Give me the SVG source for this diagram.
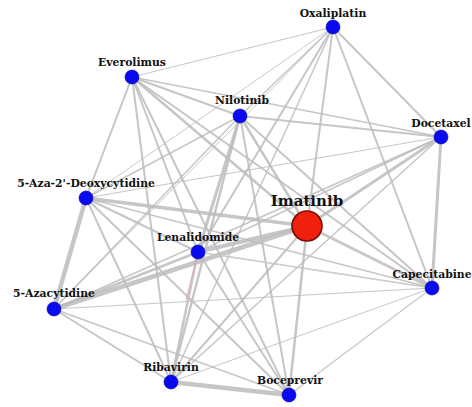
<svg xmlns="http://www.w3.org/2000/svg" width="472" height="407" viewBox="0 0 472 407">
<style>
.e{stroke:#bcbcbc;stroke-linecap:round;fill:none;stroke-opacity:0.85}
.n{fill:#0a0af0;stroke:#0000a0;stroke-width:0.6}
.hub{fill:#f0200e;stroke:#7a0a00;stroke-width:1.6}
.l{font-family:"DejaVu Serif","Liberation Serif",serif;font-weight:bold;font-size:10.8px;fill:#111;text-anchor:middle}
.big{font-size:15px}
</style>
<rect width="472" height="407" fill="#fff"/>
<g id="connectors">
<line class="e" x1="333" y1="27" x2="132" y2="77" stroke-width="1"/>
<line class="e" x1="333" y1="27" x2="240" y2="116" stroke-width="1.5"/>
<line class="e" x1="333" y1="27" x2="441" y2="137" stroke-width="2"/>
<line class="e" x1="333" y1="27" x2="86" y2="198" stroke-width="1" stroke-dasharray="3 1"/>
<line class="e" x1="333" y1="27" x2="307" y2="226" stroke-width="2"/>
<line class="e" x1="333" y1="27" x2="198" y2="252" stroke-width="2"/>
<line class="e" x1="333" y1="27" x2="432" y2="288" stroke-width="2"/>
<line class="e" x1="333" y1="27" x2="171" y2="382" stroke-width="1.5"/>
<line class="e" x1="333" y1="27" x2="54" y2="309" stroke-width="1"/>
<line class="e" x1="132" y1="77" x2="240" y2="116" stroke-width="2"/>
<line class="e" x1="132" y1="77" x2="86" y2="198" stroke-width="2"/>
<line class="e" x1="132" y1="77" x2="307" y2="226" stroke-width="2.5"/>
<line class="e" x1="132" y1="77" x2="198" y2="252" stroke-width="2"/>
<line class="e" x1="132" y1="77" x2="171" y2="382" stroke-width="2"/>
<line class="e" x1="132" y1="77" x2="289" y2="395" stroke-width="2"/>
<line class="e" x1="132" y1="77" x2="441" y2="137" stroke-width="1.5"/>
<line class="e" x1="132" y1="77" x2="432" y2="288" stroke-width="2"/>
<line class="e" x1="240" y1="116" x2="441" y2="137" stroke-width="2"/>
<line class="e" x1="240" y1="116" x2="307" y2="226" stroke-width="2.5"/>
<line class="e" x1="240" y1="116" x2="198" y2="252" stroke-width="3"/>
<line class="e" x1="240" y1="116" x2="171" y2="382" stroke-width="2.5"/>
<line class="e" x1="240" y1="116" x2="289" y2="395" stroke-width="2"/>
<line class="e" x1="240" y1="116" x2="432" y2="288" stroke-width="2"/>
<line class="e" x1="240" y1="116" x2="86" y2="198" stroke-width="1.5"/>
<line class="e" x1="240" y1="116" x2="54" y2="309" stroke-width="1.5"/>
<line class="e" x1="441" y1="137" x2="432" y2="288" stroke-width="3"/>
<line class="e" x1="441" y1="137" x2="307" y2="226" stroke-width="3"/>
<line class="e" x1="441" y1="137" x2="198" y2="252" stroke-width="1.5"/>
<line class="e" x1="441" y1="137" x2="86" y2="198" stroke-width="1"/>
<line class="e" x1="441" y1="137" x2="54" y2="309" stroke-width="1.5"/>
<line class="e" x1="441" y1="137" x2="171" y2="382" stroke-width="1.5"/>
<line class="e" x1="86" y1="198" x2="54" y2="309" stroke-width="4.5"/>
<line class="e" x1="86" y1="198" x2="307" y2="226" stroke-width="3.5"/>
<line class="e" x1="86" y1="198" x2="198" y2="252" stroke-width="2"/>
<line class="e" x1="86" y1="198" x2="171" y2="382" stroke-width="2"/>
<line class="e" x1="86" y1="198" x2="289" y2="395" stroke-width="2"/>
<line class="e" x1="86" y1="198" x2="432" y2="288" stroke-width="1.5"/>
<line class="e" x1="307" y1="226" x2="198" y2="252" stroke-width="4"/>
<line class="e" x1="307" y1="226" x2="54" y2="309" stroke-width="4.5"/>
<line class="e" x1="307" y1="226" x2="432" y2="288" stroke-width="3"/>
<line class="e" x1="307" y1="226" x2="289" y2="395" stroke-width="2.5"/>
<line class="e" x1="307" y1="226" x2="171" y2="382" stroke-width="2"/>
<line class="e" x1="198" y1="252" x2="54" y2="309" stroke-width="2.5"/>
<line class="e" x1="198" y1="252" x2="171" y2="382" stroke-width="2.5"/>
<line class="e" x1="198" y1="252" x2="289" y2="395" stroke-width="2"/>
<line class="e" x1="198" y1="252" x2="432" y2="288" stroke-width="1.5"/>
<line class="e" x1="54" y1="309" x2="171" y2="382" stroke-width="2"/>
<line class="e" x1="54" y1="309" x2="289" y2="395" stroke-width="1.5"/>
<line class="e" x1="54" y1="309" x2="432" y2="288" stroke-width="1"/>
<line class="e" x1="171" y1="382" x2="289" y2="395" stroke-width="4.5"/>
<line class="e" x1="171" y1="382" x2="432" y2="288" stroke-width="1"/>
<line class="e" x1="289" y1="395" x2="432" y2="288" stroke-width="1.2"/>
<line x1="198" y1="252" x2="186" y2="300" stroke="#e8a0a8" stroke-width="0.8"/>
<line x1="307" y1="226" x2="432" y2="288" stroke="#f0c8c8" stroke-width="0.4"/>
<line x1="198" y1="252" x2="432" y2="288" stroke="#c8e0c0" stroke-width="0.6"/>
</g>
<g id="node-oxaliplatin"><circle class="n" cx="333" cy="27" r="7"/><text class="l" x="333" y="17">Oxaliplatin</text></g>
<g id="node-everolimus"><circle class="n" cx="132" cy="77" r="7"/><text class="l" x="132" y="66">Everolimus</text></g>
<g id="node-nilotinib"><circle class="n" cx="240" cy="116" r="7"/><text class="l" x="242" y="104">Nilotinib</text></g>
<g id="node-docetaxel"><circle class="n" cx="441" cy="137" r="7"/><text class="l" x="441" y="127">Docetaxel</text></g>
<g id="node-aza2"><circle class="n" cx="86" cy="198" r="7"/><text class="l" x="86" y="187">5-Aza-2'-Deoxycytidine</text></g>
<g id="node-imatinib"><circle class="hub" cx="307" cy="226" r="15"/><text class="l big" x="307" y="206">Imatinib</text></g>
<g id="node-lenalidomide"><circle class="n" cx="198" cy="252" r="7"/><text class="l" x="198" y="241">Lenalidomide</text></g>
<g id="node-capecitabine"><circle class="n" cx="432" cy="288" r="7"/><text class="l" x="432" y="278">Capecitabine</text></g>
<g id="node-azacytidine"><circle class="n" cx="54" cy="309" r="7"/><text class="l" x="54" y="297">5-Azacytidine</text></g>
<g id="node-ribavirin"><circle class="n" cx="171" cy="382" r="7"/><text class="l" x="171" y="371">Ribavirin</text></g>
<g id="node-boceprevir"><circle class="n" cx="289" cy="395" r="7"/><text class="l" x="290" y="384">Boceprevir</text></g>
</svg>
